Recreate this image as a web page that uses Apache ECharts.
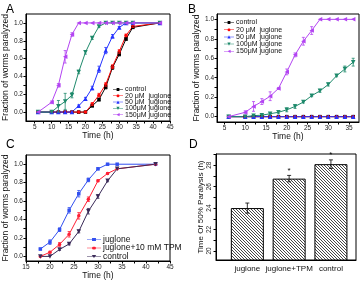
<!DOCTYPE html>
<html>
<head>
<meta charset="utf-8">
<script src="https://cdn.jsdelivr.net/npm/echarts@6/dist/echarts.min.js"></script>
<style>html,body{margin:0;padding:0;background:#fff}#c{width:364px;height:282px}</style>
</head>
<body>
<div id="c"></div>
<script>
// ---------- DATA ----------
const namesAB = ['control', '20 \u03bcM  juglone', '50 \u03bcM  juglone', '100\u03bcM juglone', '150\u03bcM juglone'];
const timeA = [6, 10, 12, 14, 16, 18, 20, 22, 24, 26, 28, 30, 32, 34, 42];
const A_control = [0, 0, 0, 0, 0, 0, 0, 0.07, 0.14, 0.28, 0.50, 0.65, 0.82, 0.95, 1.0];
const A_20 = [0, 0, 0, 0, 0, 0, 0, 0.09, 0.19, 0.31, 0.51, 0.68, 0.86, 0.96, 1.0];
const A_50 = [0, 0, 0, 0, 0, 0.07, 0.15, 0.27, 0.48, 0.69, 0.85, 0.95, 1.0, 1.0, 1.0];
const A_100 = [0, 0, 0.065, 0.12, 0.19, 0.45, 0.67, 0.83, 0.96, 1, 1, 1, 1, 1, 1];
const A_150 = [0, 0.11, 0.30, 0.62, 0.87, 1, 1, 1, 1, 1, 1, 1, 1, 1, 1];
const A_control_err = [0, 0, 0, 0, 0, 0, 0, 0.01, 0.015, 0.02, 0.02, 0.02, 0.015, 0.01, 0];
const A_20_err = [0, 0, 0, 0, 0, 0, 0, 0.015, 0.02, 0.02, 0.02, 0.02, 0.015, 0.01, 0];
const A_50_err = [0, 0, 0, 0, 0, 0.01, 0.015, 0.02, 0.035, 0.035, 0.02, 0.01, 0, 0, 0];
const A_100_err = [0, 0, 0.065, 0.09, 0.03, 0.02, 0.02, 0.015, 0.01, 0, 0, 0, 0, 0, 0];
const A_150_err = [0, 0.015, 0.02, 0.07, 0.02, 0, 0, 0, 0, 0, 0, 0, 0, 0, 0];

const timeB = [6, 10, 12, 14, 16, 18, 20, 22, 24, 26, 28, 30, 32, 34, 36];
const B_control = [0, 0, 0, 0, 0, 0, 0, 0, 0, 0, 0, 0, 0, 0, 0];
const B_20 = [0, 0, 0, 0, 0, 0, 0, 0, 0, 0, 0, 0, 0, 0, 0];
const B_50 = [0, 0, 0, 0, 0, 0, 0, 0, 0, 0, 0, 0, 0, 0, 0];
const B_100 = [0, 0, 0.01, 0.015, 0.03, 0.045, 0.07, 0.105, 0.15, 0.215, 0.265, 0.33, 0.42, 0.49, 0.56];
const B_150 = [0, 0.045, 0.105, 0.155, 0.21, 0.29, 0.46, 0.635, 0.775, 0.885, 1, 1, 1, 1, 1];
const B_100_err = [0, 0, 0.005, 0.01, 0.01, 0.015, 0.02, 0.02, 0.01, 0.01, 0.015, 0.015, 0.01, 0.03, 0.04];
const B_150_err = [0, 0.015, 0.05, 0.03, 0.045, 0.01, 0.03, 0.02, 0.04, 0.04, 0, 0, 0, 0, 0];

const namesC = ['juglone', 'juglone+10 mM TPM', 'control'];
const timeC = [18, 20, 22, 24, 26, 28, 30, 32, 34, 42];
const C_juglone = [0.08, 0.155, 0.29, 0.50, 0.68, 0.83, 0.95, 1.0, 1.0, 1.0];
const C_tpm = [0, 0.045, 0.13, 0.24, 0.44, 0.62, 0.82, 0.90, 0.95, 1.0];
const C_control = [0, 0, 0.075, 0.135, 0.27, 0.49, 0.65, 0.82, 0.95, 1.0];
const C_juglone_err = [0.01, 0.025, 0.02, 0.03, 0.035, 0.02, 0.01, 0, 0, 0];
const C_tpm_err = [0, 0.01, 0.02, 0.03, 0.035, 0.025, 0.01, 0.01, 0, 0];
const C_control_err = [0, 0, 0.01, 0.01, 0.015, 0.03, 0.02, 0.01, 0, 0];

const catD = ['juglone', 'juglone+TPM', 'control'];
const valD = [24.0, 26.75, 28.1];
const errD = [0.47, 0.3, 0.4];
const sigD = ['', '*', '*'];

const tickX_A = [5, 10, 15, 20, 25, 30, 35, 40, 45];
const tickX_B = [5, 10, 15, 20, 25, 30, 35];
const tickX_C = [15, 20, 25, 30, 35, 40, 45];
const tickY_frac = [0, 0.2, 0.4, 0.6, 0.8, 1.0];
const tickY_D = [20, 22, 24, 26, 28];

// ---------- STYLE ----------
const FONT = 'Liberation Sans, Arial, sans-serif';
const colAB = ['#000000', '#ff0a0a', '#2633ff', '#1f8a6c', '#b344f2'];
const symAB = ['rect', 'circle', 'triangle', 'triangle', 'triangle'];
const rotAB = [0, 0, 0, 180, 90];
const colC = ['#3350f0', '#ff2035', '#3a2a58'];
const symC = ['rect', 'circle', 'triangle'];
const rotC = [0, 0, 180];

// legend icon paths (line + marker)
const LINE = 'M0,1.75H10V2.25H0Z ';
const ICON = {
  rect_0: 'path://' + LINE + 'M3.6,0.6H6.4V3.4H3.6Z M5,0H5.01V4H5Z',
  circle_0: 'path://' + LINE + 'M3.5,2A1.5,1.5 0 1 1 6.5,2A1.5,1.5 0 1 1 3.5,2Z M5,0H5.01V4H5Z',
  triangle_0: 'path://' + LINE + 'M5,0.4L6.6,3.6L3.4,3.6Z M5,0H5.01V4H5Z',
  triangle_180: 'path://' + LINE + 'M3.4,0.4L6.6,0.4L5,3.6Z M5,0H5.01V4H5Z',
  triangle_90: 'path://' + LINE + 'M3.4,2L6.6,0.4L6.6,3.6Z M5,0H5.01V4H5Z'
};

function minorOf(ticks, step) {
  const out = [];
  for (let i = 0; i < ticks.length; i++) {
    out.push(ticks[i]);
    if (i < ticks.length - 1) out.push(+(ticks[i] + step).toFixed(4));
  }
  return out;
}

function xAxisCfg(gi, min, max, ticks, step, nameGap) {
  return {
    gridIndex: gi, type: 'value', min: min, max: max,
    axisLine: { show: true, onZero: false, lineStyle: { color: '#000', width: 1 } },
    axisTick: { show: true, length: 2.5, customValues: minorOf(ticks, step), lineStyle: { color: '#000' } },
    axisLabel: { customValues: ticks, fontSize: 6.5, margin: 2.5, color: '#222', fontFamily: FONT },
    splitLine: { show: false },
    name: 'Time (h)', nameLocation: 'middle', nameGap: nameGap,
    nameTextStyle: { fontSize: 8.5, color: '#111', fontFamily: FONT }
  };
}
function yAxisFrac(gi, min, max, nameGap) {
  return {
    gridIndex: gi, type: 'value', min: min, max: max,
    axisLine: { show: true, onZero: false, lineStyle: { color: '#000', width: 1 } },
    axisTick: { show: true, length: 2.5, customValues: minorOf(tickY_frac, 0.1), lineStyle: { color: '#000' } },
    axisLabel: { customValues: tickY_frac, fontSize: 6.5, margin: 3, color: '#222', fontFamily: FONT,
      formatter: v => (+v).toFixed(1) },
    splitLine: { show: false },
    name: 'Fraction of worms paralyzed', nameLocation: 'middle', nameGap: nameGap,
    nameTextStyle: { fontSize: 8.5, color: '#111', fontFamily: FONT }
  };
}

function lineSeries(id, gi, times, vals, color, sym, rot) {
  return {
    type: 'line', name: id, xAxisIndex: gi, yAxisIndex: gi,
    data: times.map((t, i) => [t, vals[i]]),
    symbol: sym, symbolRotate: rot, symbolSize: sym === 'triangle' ? 4.5 : 3.5,
    showAllSymbol: true,
    lineStyle: { color: color, width: 1 },
    itemStyle: { color: color },
    emphasis: { disabled: true }, animation: false, z: 3
  };
}
function errSeries(gi, times, vals, errs, color) {
  const data = [];
  times.forEach((t, i) => { if (errs[i] > 0) data.push([t, vals[i], errs[i]]); });
  return {
    type: 'custom', xAxisIndex: gi, yAxisIndex: gi, silent: true, animation: false, z: 4,
    data: data, encode: { x: 0, y: 1 },
    renderItem: function (params, api) {
      const x = api.value(0), y = api.value(1), e = api.value(2);
      const hi = api.coord([x, y + e]), lo = api.coord([x, y - e]);
      const w = 1.5, st = { stroke: color, lineWidth: 0.8 };
      return { type: 'group', children: [
        { type: 'line', shape: { x1: hi[0], y1: hi[1], x2: lo[0], y2: lo[1] }, style: st },
        { type: 'line', shape: { x1: hi[0] - w, y1: hi[1], x2: hi[0] + w, y2: hi[1] }, style: st },
        { type: 'line', shape: { x1: lo[0] - w, y1: lo[1], x2: lo[0] + w, y2: lo[1] }, style: st }
      ] };
    }
  };
}

// hatch pattern
const pc = document.createElement('canvas');
pc.width = 3; pc.height = 3;
(function () {
  const c = pc.getContext('2d');
  c.fillStyle = '#fff'; c.fillRect(0, 0, 3, 3);
  c.strokeStyle = '#333'; c.lineWidth = 0.9;
  c.beginPath();
  c.moveTo(-1, -1); c.lineTo(4, 4);
  c.moveTo(2, -1); c.lineTo(4, 1);
  c.moveTo(-1, 2); c.lineTo(1, 4);
  c.stroke();
})();

const series = [];
const listA = [A_control, A_20, A_50, A_100, A_150];
const errA = [A_control_err, A_20_err, A_50_err, A_100_err, A_150_err];
listA.forEach((v, i) => series.push(lineSeries('A|' + namesAB[i], 0, timeA, v, colAB[i], symAB[i], rotAB[i])));
listA.forEach((v, i) => series.push(errSeries(0, timeA, v, errA[i], colAB[i])));
const listB = [B_control, B_20, B_50, B_100, B_150];
listB.forEach((v, i) => series.push(lineSeries('B|' + namesAB[i], 1, timeB, v, colAB[i], symAB[i], rotAB[i])));
series.push(errSeries(1, timeB, B_100, B_100_err, colAB[3]));
series.push(errSeries(1, timeB, B_150, B_150_err, colAB[4]));
const listC = [C_juglone, C_tpm, C_control];
const errC = [C_juglone_err, C_tpm_err, C_control_err];
listC.forEach((v, i) => series.push(lineSeries('C|' + namesC[i], 2, timeC, v, colC[i], symC[i], rotC[i])));
listC.forEach((v, i) => series.push(errSeries(2, timeC, v, errC[i], colC[i])));

series.push({
  type: 'bar', xAxisIndex: 3, yAxisIndex: 3, barWidth: 33, animation: false, silent: true,
  data: valD.map((v, i) => [i + 1, v]),
  itemStyle: { color: { image: pc, repeat: 'repeat' }, borderColor: '#000', borderWidth: 1 }
});
series.push({
  type: 'custom', xAxisIndex: 3, yAxisIndex: 3, silent: true, animation: false, z: 5,
  data: valD.map((v, i) => [i + 1, v, errD[i], i]), encode: { x: 0, y: 1 },
  renderItem: function (params, api) {
    const x = api.value(0), y = api.value(1), e = api.value(2), idx = api.value(3);
    const hi = api.coord([x, y + e]), lo = api.coord([x, y - e]);
    const st = { stroke: '#000', lineWidth: 0.8 }, w = 2;
    const ch = [
      { type: 'line', shape: { x1: hi[0], y1: hi[1], x2: lo[0], y2: lo[1] }, style: st },
      { type: 'line', shape: { x1: hi[0] - w, y1: hi[1], x2: hi[0] + w, y2: hi[1] }, style: st },
      { type: 'line', shape: { x1: lo[0] - w, y1: lo[1], x2: lo[0] + w, y2: lo[1] }, style: st }
    ];
    if (sigD[idx]) ch.push({ type: 'text', style: { text: sigD[idx], x: hi[0], y: hi[1] - 1, align: 'center', verticalAlign: 'bottom', fontSize: 8, fill: '#000', fontFamily: FONT } });
    return { type: 'group', children: ch };
  }
});

function legendData(prefix, names, syms, rots) {
  return names.map((n, i) => ({ name: prefix + n, icon: ICON[syms[i] + '_' + rots[i]] }));
}
const legendBase = {
  orient: 'vertical', itemWidth: 10, itemHeight: 4, selectedMode: false, symbolKeepAspect: false,
  textStyle: { fontSize: 7, color: '#111', fontFamily: FONT, padding: [0, 0, 0, -3] },
  formatter: n => n.split('|')[1]
};

const option = {
  backgroundColor: '#fff',
  animation: false,
  title: [
    { text: 'A', left: 1, top: -1, textStyle: { fontSize: 12, fontWeight: 'normal', color: '#000', fontFamily: FONT } },
    { text: 'B', left: 183, top: -1, textStyle: { fontSize: 12, fontWeight: 'normal', color: '#000', fontFamily: FONT } },
    { text: 'C', left: 1, top: 134, textStyle: { fontSize: 12, fontWeight: 'normal', color: '#000', fontFamily: FONT } },
    { text: 'D', left: 184, top: 134, textStyle: { fontSize: 12, fontWeight: 'normal', color: '#000', fontFamily: FONT } }
  ],
  grid: [
    { left: 22, top: 14, width: 148, height: 107, show: true, borderColor: '#000', borderWidth: 1, backgroundColor: 'transparent' },
    { left: 217, top: 14, width: 142, height: 108, show: true, borderColor: '#000', borderWidth: 1, backgroundColor: 'transparent' },
    { left: 22, top: 155, width: 148, height: 106, show: true, borderColor: '#000', borderWidth: 1, backgroundColor: 'transparent' },
    { left: 216, top: 154, width: 140, height: 106, show: true, borderColor: '#000', borderWidth: 1, backgroundColor: 'transparent' }
  ],
  xAxis: [
    xAxisCfg(0, 2.4, 45, tickX_A, 2.5, 8),
    xAxisCfg(1, 3.2, 37.4, tickX_B, 2.5, 8),
    xAxisCfg(2, 15, 45, tickX_C, 2.5, 9),
    {
      gridIndex: 3, type: 'value', min: 0.25, max: 3.6,
      axisLine: { show: true, onZero: false, lineStyle: { color: '#000' } },
      axisTick: { show: false },
      axisLabel: { customValues: [1, 2, 3], fontSize: 8, margin: 5, color: '#111', fontFamily: FONT,
        formatter: v => catD[Math.round(v) - 1] },
      splitLine: { show: false }
    }
  ],
  yAxis: [
    yAxisFrac(0, -0.1, 1.1, 12),
    yAxisFrac(1, -0.055, 1.055, 14),
    yAxisFrac(2, -0.05, 1.1, 12),
    {
      gridIndex: 3, type: 'value', min: 19.15, max: 29.05,
      axisLine: { show: true, onZero: false, lineStyle: { color: '#000' } },
      axisTick: { show: true, length: 2.5, customValues: [20, 21, 22, 23, 24, 25, 26, 27, 28, 29], lineStyle: { color: '#000' } },
      axisLabel: { customValues: tickY_D, fontSize: 6.5, margin: 3, rotate: 90, color: '#222', fontFamily: FONT },
      splitLine: { show: false },
      name: 'Time Of 50% Paralysis (h)', nameLocation: 'middle', nameGap: 11,
      nameTextStyle: { fontSize: 8, color: '#111', fontFamily: FONT }
    }
  ],
  legend: [
    Object.assign({}, legendBase, { left: 108, top: 81, itemGap: -0.7, data: legendData('A|', namesAB, symAB, rotAB) }),
    Object.assign({}, legendBase, { left: 219, top: 14, itemGap: 0.2, data: legendData('B|', namesAB, symAB, rotAB) }),
    Object.assign({}, legendBase, { left: 82, top: 230, itemGap: -0.5, itemWidth: 14,
      textStyle: { fontSize: 8.5, color: '#111', fontFamily: FONT, padding: [0, 0, 0, -3] },
      data: legendData('C|', namesC, symC, rotC) })
  ],
  series: series
};

const chart = echarts.init(document.getElementById('c'), null, { renderer: 'canvas' });
chart.setOption(option);
</script>
</body>
</html>
